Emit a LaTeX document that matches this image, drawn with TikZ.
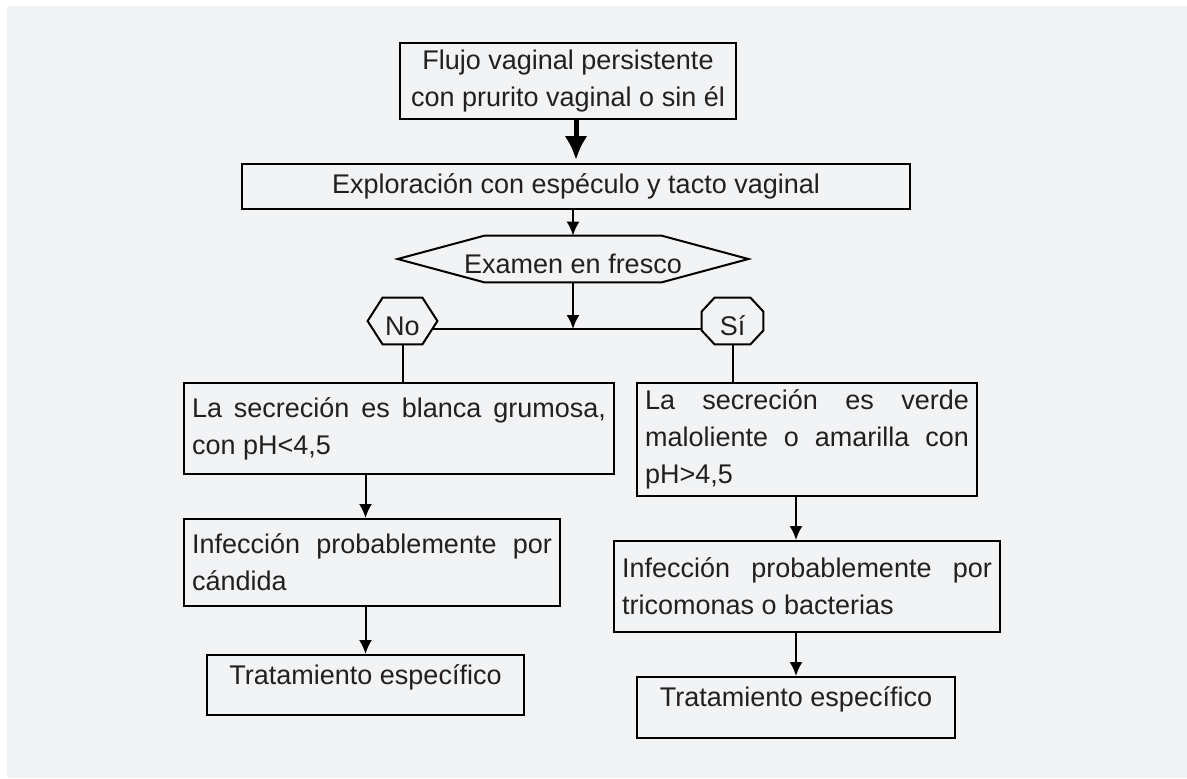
\documentclass[tikz,border=0pt]{standalone}
\usepackage{fontspec}
\setmainfont{Liberation Sans}
\usetikzlibrary{arrows.meta,positioning}
\definecolor{Fondo}{HTML}{F2F3F5}
\definecolor{Tinta}{HTML}{231F20}

\begin{document}
\begin{tikzpicture}[x=0.5pt,y=-0.5pt,
  every node/.style={font=\fontsize{13.5}{18.5}\selectfont,text=Tinta,inner sep=0pt},
  caja/.style={draw=black,line width=1pt,inner xsep=4pt,anchor=north west},
  parrafo/.style={caja,align=justify},
  trat/.style={caja,text height=14.5pt,text depth=15.5pt},
  rombo/.style={minimum height=23pt,text height=14pt,text depth=0pt},
  linea/.style={line width=1pt},
  flecha/.style={line width=1pt,-{Latex[length=7pt,width=6.5pt]}}]
\useasboundingbox (0,0) rectangle (1187,778);
\fill[Fondo] (7,6) rectangle (1187,778);
% cabecera
\node[caja,align=center,minimum width=168pt,minimum height=38pt] (flujo) at (399,42) {Flujo vaginal persistente\\con prurito vaginal o sin él};
\node[caja,minimum width=334pt,minimum height=22.5pt] (explora) at (241,163) {Exploración con espéculo y tacto vaginal};
\node[rombo,minimum width=175pt] (examen) at (573,259) {Examen en fresco};
\draw[linea] (examen.west) -- ([xshift=43.5pt]examen.north west) -- ([xshift=-43.5pt]examen.north east) -- (examen.east)
  -- ([xshift=-43.5pt]examen.south east) -- ([xshift=43.5pt]examen.south west) -- cycle;
% No / Si
\node[rombo,minimum width=34.5pt] (no) at (402.5,321) {No};
\draw[linea] (no.west) -- ([xshift=7.5pt]no.north west) -- ([xshift=-7.5pt]no.north east) -- (no.east)
  -- ([xshift=-7.5pt]no.south east) -- ([xshift=7.5pt]no.south west) -- cycle;
\node[rombo,minimum width=30.5pt] (si) at (732.5,321) {Sí};
\draw[linea] ([xshift=6.5pt]si.north west) -- ([xshift=-6.5pt]si.north east) -- ([yshift=-7pt]si.north east)
  -- ([yshift=7pt]si.south east) -- ([xshift=-6.5pt]si.south east) -- ([xshift=6.5pt]si.south west)
  -- ([yshift=7pt]si.south west) -- ([yshift=-7pt]si.north west) -- cycle;
% rama izquierda
\node[parrafo,text width=207pt,minimum height=45.5pt] (blanca) at (183,382) {La secreción es blanca grumosa,\linebreak con pH<4,5};
\node[parrafo,text width=180pt,minimum height=43.5pt] (candida) at (183,518) {Infección probablemente por\linebreak cándida};
\node[trat,minimum width=158.5pt] (tratA) at (206,654) {Tratamiento específico};
% rama derecha
\node[parrafo,text width=162pt,minimum height=56.5pt] (verde) at (636,382) {La secreción es verde\linebreak maloliente o amarilla con\linebreak pH>4,5};
\node[parrafo,text width=185pt,minimum height=45.5pt] (tricom) at (613,540) {Infección probablemente por\linebreak tricomonas o bacterias};
\node[trat,minimum width=159pt,text depth=16pt] (tratB) at (636,676) {Tratamiento específico};
% conexiones
\coordinate (cruce) at (573,329);
\draw[line width=2.5pt,-{Latex[length=12pt,width=11.5pt]},shorten >=1.5pt] ([xshift=4pt]flujo.south) -- ([xshift=4pt]flujo.south |- explora.north);
\draw[flecha] (examen.north |- explora.south) -- (examen.north);
\draw[flecha] (examen.south) -- (cruce);
\draw[linea] ([xshift=-2.5pt]no.east |- cruce) -- (si.west |- cruce);
\draw[linea] (no.south) -- (no.south |- blanca.north);
\draw[linea] (si.south) -- (si.south |- verde.north);
\draw[flecha] (blanca.south -| tratA.north) -- (candida.north -| tratA.north);
\draw[flecha] (candida.south -| tratA.north) -- (tratA.north);
\draw[flecha] (verde.south -| tratB.north) -- (tricom.north -| tratB.north);
\draw[flecha] (tricom.south -| tratB.north) -- (tratB.north);
\end{tikzpicture}
\end{document}
